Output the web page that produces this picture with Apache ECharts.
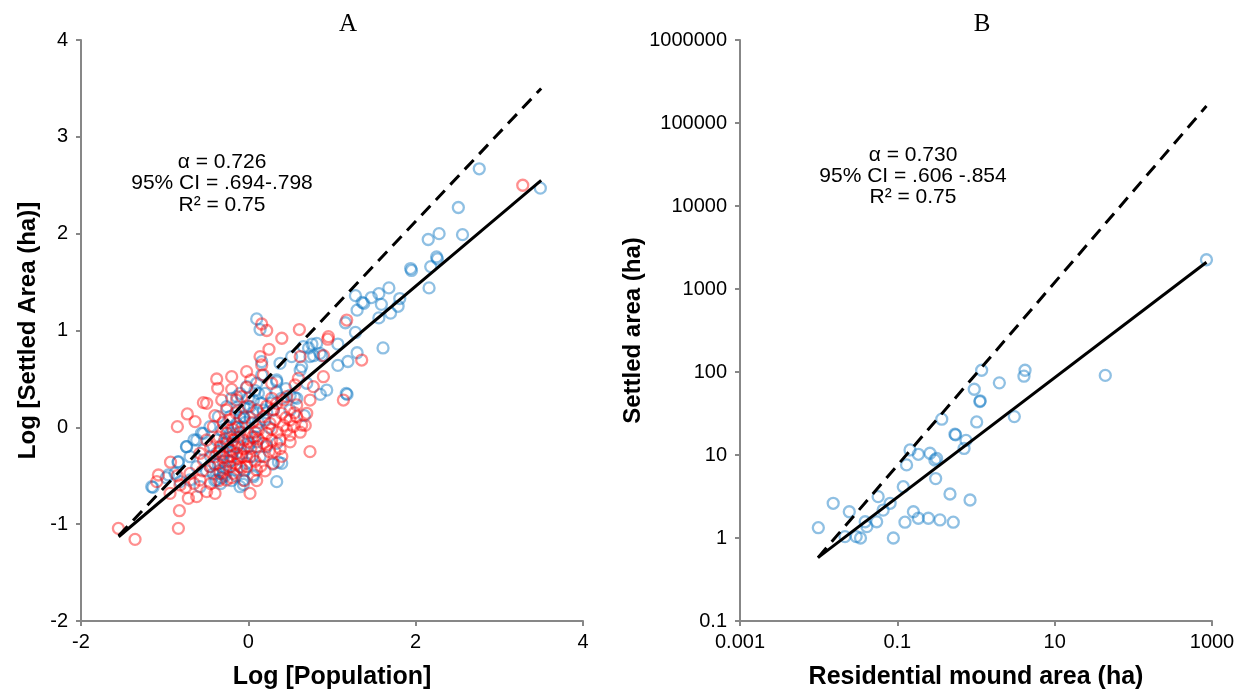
<!DOCTYPE html>
<html><head><meta charset="utf-8">
<script src="https://cdn.jsdelivr.net/npm/echarts@6/dist/echarts.min.js"></script>
<style>html,body{margin:0;padding:0;background:#fff}#c{width:1239px;height:695px}</style>
</head><body><div id="c"></div>
<script>
// ---------- Panel A data (log10 values) ----------
const blueA = [
[2.76,2.67],[3.49,2.47],[2.51,2.27],[2.28,2.0],[2.56,1.99],[2.15,1.94],[2.25,1.76],[2.26,1.74],[1.94,1.64],[1.95,1.62],
[2.18,1.66],[2.16,1.44],[1.28,1.36],[1.47,1.34],[1.56,1.38],[1.68,1.44],[1.36,1.29],[1.38,1.28],[1.59,1.27],[1.81,1.33],
[1.79,1.25],[1.30,1.21],[1.56,1.13],[1.70,1.18],[1.16,1.08],[1.28,0.98],[1.61,0.82],[1.07,0.86],[1.30,0.77],[1.07,0.64],
[1.19,0.68],[1.18,0.34],[1.17,0.35],[0.10,1.12],[0.14,1.01],[0.76,0.86],[0.72,0.82],[0.78,0.74],[0.88,0.74],[0.62,0.59],
[0.50,0.33],[0.55,0.31],[0.86,0.34],[0.34,0.47],[0.67,0.12],[0.36,-0.36],[0.29,-0.38],[-0.06,-0.59],[0.06,-0.49],[-1.14,-0.62],
[-0.98,-0.52],[-0.84,-0.36],[-0.74,-0.2],[-0.65,-0.13],[-0.56,-0.06],
[-1.155,-0.613],[-0.956,-0.492],[-0.836,-0.355],[-0.876,-0.475],[-0.737,-0.2],[-0.617,-0.131],[-0.537,-0.062],[-0.697,-0.303],
[-0.458,0.007],[-0.358,0.11],[-0.259,0.214],[-0.139,0.317],[-0.019,0.42],[0.1,0.455],[0.16,0.541],[0.16,0.678],[0.339,0.489],
[0.339,0.368],[0.02,0.214],[-0.059,0.11],[-0.139,0.041],[-0.219,-0.062],[-0.298,-0.165],[-0.378,-0.268],[-0.458,-0.406],
[-0.378,-0.544],[-0.298,-0.475],[-0.139,-0.44],[-0.019,-0.372],[-0.059,-0.544],[0.06,-0.51],[0.14,-0.303],[0.219,-0.2],
[0.339,-0.165],[0.399,-0.372],[0.02,-0.165],[-0.019,-0.062],[0.1,0.007],[0.199,0.076],[0.299,0.179],[0.498,0.179],[0.578,0.3],
[0.698,0.455],[0.737,0.73],[0.817,0.867],[0.658,0.833],[0.937,0.385],[0.638,0.627],[0.857,0.764],[0.339,-0.561],[-0.816,-0.561],
[-0.577,-0.613],[-0.697,-0.544],[-0.199,-0.303],[-0.139,-0.2],[-0.318,-0.027],[-0.219,0.11],[-0.378,-0.131],[-0.537,-0.234],
[-0.617,-0.406],[0.06,0.282],[0.12,0.351],[0.18,0.179],[-0.119,0.179],[-0.079,-0.268],[-0.099,-0.613],[0.379,0.661],[0.518,0.73],
[-0.35,-0.45],[-0.3,-0.35],[-0.25,-0.2],[-0.2,-0.1],[-0.15,0.0],[-0.1,0.1],[-0.05,0.2],[0.0,0.3],[-0.4,-0.55],[-0.33,-0.58],
[-0.28,-0.5],[-0.05,-0.45],[0.05,-0.3],[0.1,-0.15],[0.15,0.25],[0.2,0.35],[-0.45,-0.3],[-0.5,-0.45],[0.25,0.0],[-0.25,0.0],
[-0.32,-0.52],[-0.27,-0.42],[-0.22,-0.35],[-0.18,-0.25],[-0.12,-0.1],[-0.08,0.0],[-0.04,0.05],[0.02,0.1],[0.05,0.15],[-0.3,-0.28],
[-0.26,-0.15],[-0.36,-0.38],[-0.42,-0.48],[-0.2,-0.55],[-0.15,-0.5],[0.0,-0.2],[0.08,-0.1],[0.12,0.05],[0.22,0.15],[0.28,0.25],
[0.4,0.3],[0.45,0.4],[0.08,0.38],[-0.2,0.3],[-0.1,0.35]
];
const redA = [
[3.28,2.5],[1.176,1.108],[1.355,0.695],[1.136,0.282],[0.957,0.936],[0.90,0.74],[0.61,1.01],[0.62,0.73],[0.40,0.92],[0.22,1.0],
[0.16,1.067],[0.247,0.806],[0.14,0.73],[0.16,0.644],[0.18,0.541],[0.028,0.489],[-0.02,0.575],[-0.199,0.523],[-0.378,0.499],
[-0.366,0.403],[-0.199,0.392],[-0.02,0.413],[-0.079,0.317],[-0.259,0.179],[-0.418,0.007],[-0.498,-0.131],[-0.577,-0.268],
[-0.697,-0.475],[-0.577,-0.544],[-0.498,-0.664],[-0.398,-0.682],[-0.717,-0.733],[-0.936,-0.682],[-1.095,-0.561],[-0.817,-0.595],
[-0.617,-0.716],[-0.338,-0.475],[-0.219,-0.406],[-0.139,-0.268],[-0.298,-0.303],[-0.179,-0.131],[-0.059,-0.131],[0.02,-0.303],
[0.1,-0.2],[0.18,-0.303],[-0.019,-0.406],[0.1,-0.44],[0.299,-0.372],[0.02,-0.682],[0.319,-0.251],[0.379,-0.131],[0.459,-0.027],
[0.538,0.007],[0.638,0.024],[0.498,0.076],[0.399,0.145],[0.339,0.248],[0.419,0.282],[0.578,0.231],[0.737,0.282],[0.737,-0.251],
[0.558,0.437],[0.598,0.506],[0.459,0.317],[0.279,0.30],[0.1,0.179],[0.18,0.11],[0.259,0.041],[0.219,-0.062],[0.12,-0.027],
[-0.119,0.007],[-0.259,-0.062],[-0.338,-0.2],[-0.398,-0.303],[-0.219,-0.234],[-0.079,-0.303],[-0.099,-0.406],[-0.179,-0.475],
[-0.259,-0.544],[-0.458,-0.406],[-0.537,-0.337],[0.18,-0.165],[0.279,-0.131],[0.498,-0.079],[0.578,0.11],[0.698,0.145],
[0.777,0.42],[0.897,0.523],[0.279,0.455],[-0.139,0.282],[-0.318,0.282],[-0.498,0.248],[-1.553,-1.043],[-1.354,-1.157],
[-0.836,-1.043],[-0.824,-0.861],[-1.075,-0.492],[-0.848,0.007],[-0.729,0.138],[-0.537,0.255],[-0.637,0.059],[-0.93,-0.36],
[0.95,0.91],[-0.25,-0.35],[-0.15,-0.38],[-0.05,-0.22],[0.05,-0.1],[-0.2,-0.18],[-0.1,-0.05],[0.0,-0.15],[0.08,-0.35],
[-0.3,-0.42],[-0.12,-0.32],[0.25,-0.25],[0.35,-0.05],[0.45,0.1],[-0.35,-0.1],[-0.05,0.1],[0.05,0.05],
[-0.45,-0.2],[-0.4,-0.38],[-0.35,-0.25],[-0.28,-0.12],[-0.22,-0.3],[-0.18,-0.02],[-0.12,-0.18],[-0.08,-0.42],[-0.02,-0.3],
[0.03,-0.22],[0.08,-0.05],[0.12,-0.12],[0.15,-0.4],[0.22,-0.18],[0.28,-0.02],[0.32,0.08],[0.38,-0.22],[0.42,0.02],[0.5,-0.15],
[0.55,0.15],[0.62,-0.05],[0.68,0.02],[0.3,0.18],[0.22,0.22],[-0.3,0.05],[-0.4,0.12],[-0.22,0.08],[-0.15,0.15],[0.0,0.22],
[-0.35,-0.55],[-0.2,-0.52],[-0.05,-0.55],[0.1,-0.55],[-0.55,-0.45],[-0.65,-0.58],[-0.75,-0.62],[-0.85,-0.5],[-0.45,-0.58],
[0.2,-0.45],[0.4,-0.3]
];
const fitA = [[-1.55,-1.13],[3.5,2.55]];
const refA = [[-1.55,-1.12],[3.5,3.5]];
const aXTicks = [-2,0,2,4];
const aYTicks = [-2,-1,0,1,2,3,4];
const textA = ['\u03b1 = 0.726','95% CI = .694-.798','R\u00b2 = 0.75'];

// ---------- Panel B data (ha) ----------
const ptsB = [
[0.0099,1.33],[0.0153,2.62],[0.0245,2.07],[0.0216,1.04],[0.030,1.04],[0.034,1.0],[0.039,1.57],[0.041,1.37],[0.0546,1.57],
[0.057,3.15],[0.066,2.17],[0.081,2.62],[0.089,1.0],[0.119,4.15],[0.131,7.6],[0.125,1.55],[0.160,2.07],[0.185,1.73],
[0.248,1.73],[0.348,1.65],[0.514,1.55],[0.467,3.39],[0.84,2.87],[0.307,5.2],[0.145,11.5],[0.185,10.2],[0.26,10.5],
[0.316,9.1],[0.30,8.7],[0.367,27],[0.54,17.8],[0.55,17.5],[0.746,15],[0.705,12],[1.02,25],[0.95,62],[1.12,44],[1.13,45],
[1.18,105],[1.98,74],[3.07,29],[4.07,89],[4.2,105],[44,91],[850,2250]
];
const fitB = [[0.0098,0.58],[850,2100]];
const refB = [[0.0098,0.58],[850,160000]];
const bXTicks = [0.001,0.1,10,1000];
const bYTicks = [0.1,1,10,100,1000,10000,100000,1000000];
const textB = ['\u03b1 = 0.730','95% CI = .606 -.854','R\u00b2 = 0.75'];

const FONT = '"Liberation Sans", Arial, sans-serif';
const AXC = '#878787';
function axisBase(isX){
  return {
    axisLine:{show:true,onZero:false,lineStyle:{color:AXC,width:2}},
    axisTick:{show:true,inside:false,length:5,lineStyle:{color:AXC,width:2}},
    splitLine:{show:false},
    axisLabel:{color:'#000',fontSize:20,fontFamily:FONT,margin:isX?11:13},
    nameLocation:'middle',
    nameTextStyle:{color:'#000',fontSize:isX?25:24,fontWeight:'bold',fontFamily:FONT}
  };
}
const fmtLog = v => String(+Number(v).toPrecision(6));
const SYM = 11, BW = 2.3;

const chart = echarts.init(document.getElementById('c'), null, {renderer:'canvas'});

chart.setOption({
  backgroundColor:'#fff',
  animation:false,
  grid:[
    {left:81, top:40, width:502, height:581},
    {left:740, top:40, width:472, height:581}
  ],
  xAxis:[
    Object.assign(axisBase(true), {gridIndex:0, type:'value', min:aXTicks[0], max:aXTicks[aXTicks.length-1],
      interval:aXTicks[1]-aXTicks[0], name:'Log [Population]', nameGap:44}),
    Object.assign(axisBase(true), {gridIndex:1, type:'log', logBase:10, min:bXTicks[0], max:bXTicks[bXTicks.length-1],
      interval:2, name:'Residential mound area (ha)', nameGap:44,
      axisLabel:{color:'#000',fontSize:20,fontFamily:FONT,margin:11,formatter:fmtLog}})
  ],
  yAxis:[
    Object.assign(axisBase(false), {gridIndex:0, type:'value', min:aYTicks[0], max:aYTicks[aYTicks.length-1],
      interval:aYTicks[1]-aYTicks[0], name:'Log [Settled Area (ha)]', nameGap:41}),
    Object.assign(axisBase(false), {gridIndex:1, type:'log', logBase:10, min:bYTicks[0], max:bYTicks[bYTicks.length-1],
      name:'Settled area (ha)', nameGap:95,
      axisLabel:{color:'#000',fontSize:20,fontFamily:FONT,margin:13,formatter:fmtLog}})
  ],
  series:[
    {type:'scatter', xAxisIndex:0, yAxisIndex:0, data:blueA, symbol:'circle', symbolSize:SYM,
      itemStyle:{color:'rgba(0,0,0,0)', borderColor:'rgba(0,112,192,0.55)', borderWidth:BW}},
    {type:'scatter', xAxisIndex:0, yAxisIndex:0, data:redA, symbol:'circle', symbolSize:SYM,
      itemStyle:{color:'rgba(0,0,0,0)', borderColor:'rgba(255,0,0,0.55)', borderWidth:BW}},
    {type:'line', xAxisIndex:0, yAxisIndex:0, data:refA, showSymbol:false, z:5,
      lineStyle:{color:'#000', width:3, type:[13,8]}},
    {type:'line', xAxisIndex:0, yAxisIndex:0, data:fitA, showSymbol:false, z:5,
      lineStyle:{color:'#000', width:3}},
    {type:'scatter', xAxisIndex:1, yAxisIndex:1, data:ptsB, symbol:'circle', symbolSize:SYM,
      itemStyle:{color:'rgba(0,0,0,0)', borderColor:'rgba(0,112,192,0.55)', borderWidth:BW}},
    {type:'line', xAxisIndex:1, yAxisIndex:1, data:refB, showSymbol:false, z:5,
      lineStyle:{color:'#000', width:3, type:[13,8]}},
    {type:'line', xAxisIndex:1, yAxisIndex:1, data:fitB, showSymbol:false, z:5,
      lineStyle:{color:'#000', width:3}}
  ],
  graphic:[
    {type:'text', x:348, y:24, style:{text:'A', align:'center', verticalAlign:'middle', fill:'#000', font:'25px "Liberation Serif", "Times New Roman", serif'}},
    {type:'text', x:982, y:24, style:{text:'B', align:'center', verticalAlign:'middle', fill:'#000', font:'25px "Liberation Serif", "Times New Roman", serif'}}
  ].concat(
    textA.map((t,i)=>({type:'text', x:222, y:162+i*21.5, style:{text:t, align:'center', verticalAlign:'middle', fill:'#000', font:'21px '+FONT}})),
    textB.map((t,i)=>({type:'text', x:913, y:155+i*21, style:{text:t, align:'center', verticalAlign:'middle', fill:'#000', font:'21px '+FONT}}))
  )
});
</script>
</body></html>
